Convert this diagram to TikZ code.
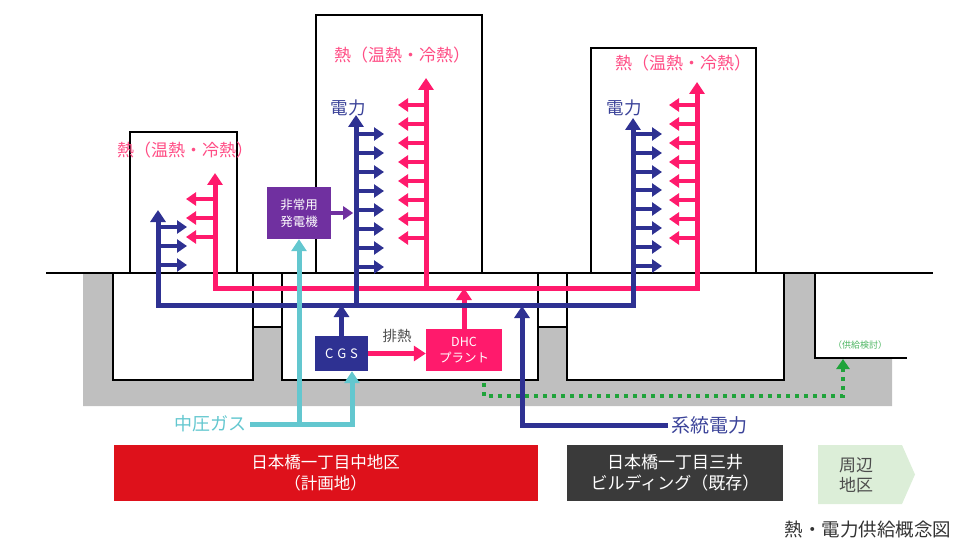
\documentclass[tikz,border=0pt]{standalone}
\usepackage{tikz}
\usetikzlibrary{arrows.meta}
\usepackage{fontspec}
\setmainfont{Noto Sans CJK JP}
\tikzset{>={Triangle[width=15pt,length=12pt]}}
\usepackage{xcolor}
\definecolor{navy}{HTML}{2E3192}
\definecolor{heatpink}{HTML}{FF1A6C}
\definecolor{heattext}{HTML}{FF4D85}
\definecolor{powertext}{HTML}{3B4399}
\definecolor{genpurple}{HTML}{7030A0}
\definecolor{gascyan}{HTML}{63C7CF}
\definecolor{kentogreen}{HTML}{1FA33A}
\definecolor{planred}{HTML}{DE111B}
\definecolor{existgray}{HTML}{3A3A3A}
\definecolor{areagreen}{HTML}{DCEED8}

\begin{document}
\begin{tikzpicture}[x=1pt,y=-1pt,
  bldg/.style={draw=black,line width=2.5pt,fill=white},
  pipe/.style={line width=5pt},
  twig/.style={line width=3.5pt,->,>={Triangle[width=13pt,length=10pt]}},
  heatlabel/.style={text=heattext,font=\fontsize{17}{20}\selectfont},
  powerlabel/.style={text=powertext,font=\fontsize{17.5}{20}\selectfont},
  plantbox/.style={text=white,align=center,inner sep=0pt},
  bar/.style={text=white,align=center,font=\fontsize{16.5}{21}\selectfont,
    minimum height=56pt,inner sep=0pt}]
\useasboundingbox (0,0) rectangle (967,559);

% ground and basements
\fill[gray!50] (83,273) -- (815,273) -- (815,358) -- (892,358)
  -- (892,406) -- (83,406) -- cycle;
\draw[bldg] (113,273) rectangle (253,380);
\draw[bldg] (253,273) rectangle (282,327);
\draw[bldg] (282,273) rectangle (538,380);
\draw[bldg] (538,273) rectangle (567,327);
\draw[bldg] (567,273) rectangle (784,380);
\draw[line width=2.5pt] (815,273) -- (815,358) -- (907,358);
\draw[line width=2.5pt] (46,273) -- (933,273);

% buildings
\draw[bldg] (130,132) rectangle (237,273);
\draw[bldg] (316,15) rectangle (482,273);
\draw[bldg] (591,48) rectangle (756,273);

\node[heatlabel] (heatA) at (185,150) {熱（温熱・冷熱）};
\node[heatlabel] (heatB) at (402,55) {熱（温熱・冷熱）};
\node[heatlabel] (heatC) at (683,63) {熱（温熱・冷熱）};
\node[powerlabel] (powerB) at (348,108) {電力};
\node[powerlabel] (powerC) at (624,108) {電力};

% plant
\node[plantbox,fill=genpurple,minimum width=64pt,minimum height=52pt,
  font=\fontsize{12.5}{17}\selectfont] (gen) at (299,213) {非常用\\発電機};
\node[plantbox,fill=navy,minimum width=53pt,minimum height=35pt,
  font=\fontsize{13}{16}\selectfont] (cgs) at (341.5,353.5) {C\hspace{4pt}G\hspace{4pt}S};
\node[plantbox,fill=heatpink,minimum width=76pt,minimum height=42pt,
  font=\fontsize{12.5}{16}\selectfont] (dhc) at (464,350) {DHC\\プラント};
\node[text=black!70,font=\fontsize{14.5}{16}\selectfont] (haihai) at (397,336) {排熱};
\node[anchor=east,text=gascyan,font=\fontsize{18}{20}\selectfont] (gas) at (250,424) {中圧ガス};
\node[anchor=west,text=powertext,font=\fontsize{19}{20}\selectfont] (grid) at (668,425) {系統電力};
\node[text=kentogreen!80,font=\fontsize{9}{10}\selectfont] (kento) at (860,345) {（供給検討）};
\coordinate (kentoend) at (843,359);

% heat
\draw[pipe,heatpink,<->] (215,173) -- (215,288) -- (697,288) -- (697,82);
\draw[pipe,heatpink,->] (426,288) -- (426,78);
\draw[pipe,heatpink,->] (dhc.north) -- (dhc.north |- 0,288);
\draw[pipe,heatpink,->] (cgs.east) -- (cgs.east -| dhc.west);
\path[twig,heatpink] (215,199) edge +(-29,0) (215,218) edge +(-29,0)
  (215,237) edge +(-29,0);
\path[twig,heatpink] (426,105) edge +(-28,0) (426,124) edge +(-28,0)
  (426,143) edge +(-28,0) (426,162) edge +(-28,0) (426,181) edge +(-28,0)
  (426,200) edge +(-28,0) (426,219) edge +(-28,0) (426,238) edge +(-28,0);
\path[twig,heatpink] (697,105) edge +(-28,0) (697,124) edge +(-28,0)
  (697,143) edge +(-28,0) (697,162) edge +(-28,0) (697,181) edge +(-28,0)
  (697,200) edge +(-28,0) (697,219) edge +(-28,0) (697,238) edge +(-28,0);

% power
\draw[pipe,navy,<->] (158,210) -- (158,305) -- (633,305) -- (633,118);
\draw[pipe,navy,->] (356,305) -- (356,115);
\draw[pipe,navy,->] (cgs.north) -- (cgs.north |- 0,305);
\draw[pipe,navy,->] (grid.west) -| (522,306);
\path[twig,navy] (158,227) edge +(29,0) (158,246) edge +(29,0)
  (158,265) edge +(29,0);
\path[twig,navy] (356,134) edge +(28,0) (356,153) edge +(28,0)
  (356,172) edge +(28,0) (356,191) edge +(28,0) (356,210) edge +(28,0)
  (356,229) edge +(28,0) (356,248) edge +(28,0) (356,267) edge +(28,0);
\path[twig,navy] (634,134) edge +(28,0) (634,153) edge +(28,0)
  (634,172) edge +(28,0) (634,190) edge +(28,0) (634,209) edge +(28,0)
  (634,228) edge +(28,0) (634,247) edge +(28,0) (634,266) edge +(28,0);
\draw[twig,genpurple] (gen.east) -- +(22,0);

% gas
\draw[pipe,gascyan,->] (gas.east) -| ([xshift=10.5pt]cgs.south);
\draw[pipe,gascyan,->] (gas.east -| gen.south) -- (gen.south);

% future supply
\draw[kentogreen,line width=4pt,dash pattern=on 4pt off 5pt]
  (484,383) -- (484,396) -- (843,396) -- (843,368);
\draw[kentogreen,line width=4pt,->,>={Triangle[width=13pt,length=10pt]}]
  (843,370) -- (kentoend);

% areas
\node[bar,fill=planred,minimum width=424pt] (planA) at (325.5,473)
  {日本橋一丁目中地区\\（計画地）};
\node[bar,fill=existgray,minimum width=216pt,font=\fontsize{17}{21}\selectfont]
  (exist) at (675,473) {日本橋一丁目三井\\ビルディング（既存）};
\fill[areagreen] (818,445) -- (902,445) -- (915,474.5) -- (902,504)
  -- (818,504) -- cycle;
\node[text=black!70,align=center,font=\fontsize{17}{20}\selectfont] (around)
  at (856,475) {周辺\\地区};
\node[text=black!80,font=\fontsize{18.5}{20}\selectfont] (caption) at (868,530)
  {熱・電力供給概念図};
\end{tikzpicture}
\end{document}
